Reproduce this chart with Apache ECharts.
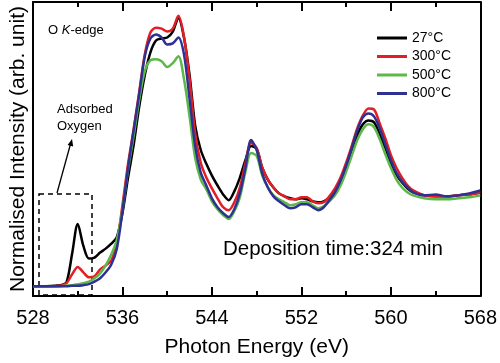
<!DOCTYPE html>
<html>
<head>
<meta charset="utf-8">
<script src="https://cdn.jsdelivr.net/npm/echarts@6/dist/echarts.min.js"></script>
<style>
html,body{margin:0;padding:0;background:#fff;}
#main{width:500px;height:363px;}
</style>
</head>
<body>
<div id="main"></div>
<script>
// Photon energy (eV)
const energy = [528,529,530,530.5,531,531.5,532,532.5,533,533.5,
534,534.5,535,535.5,536,536.5,537,537.5,538,538.5,
539,539.5,540,540.5,541,541.5,542,542.5,543,543.5,
544,544.5,545,545.5,546,546.5,547,547.5,548,548.5,
549,549.5,550,550.5,551,551.5,552,552.5,553,553.5,
554,554.5,555,555.5,556,556.5,557,557.5,558,558.5,
559,559.5,560,560.5,561,561.5,562,563,564,565,
566,567,568];
// Normalised intensity (arb. unit)
const int27 = [10,10,10.5,11,14,43,73,51,38,39,
44,48,53,60,84,120,153,192,224,247,
259,261,262,268,282,262,224,173,148,134,
122,112,103,97,106,120,138,152,149,130,
118,110,104,101,99,98,99,98,96,95,
96,100,106,116,130,146,163,174,178,176,
164,150,135,123,115,109,105,102,101,101,
102,103,105];
const int300 = [10,10,10,10.5,13,22,29.5,24,19,20,
27,31,36,54,92,134,169,207,245,267,
272,271,268,271,284,263,220,165,135,120,
109,99,90,87,95,110,135,155,150,130,
118,110,104,101,98,98,100,100,96,94,
95,101,109,120,135,152,170,183,190,189,
175,160,143,130,120,112,107,102,101,101,
102,103,105];
const int500 = [10,10,10,10,10.5,11,12,13,14.5,18,
23,31,42,57,88,128,162,199,228,239,
240,238,232,236,243,220,182,140,118,108,
96,88,82,78,86,100,126,145,142,122,
110,102,98,95,92,93,95,95,92,89,
91,96,102,112,126,142,158,169,174,171,
159,144,130,118,110,105,102,99,98,98,
99,100,102];
const int800 = [10,10,10,10,10,10.5,10.5,11,12,14.5,
18,24,32,48,86,130,168,205,243,261,
265,262,255,256,262,245,200,152,125,112,
99,90,84,80,88,104,130,158,148,124,
110,101,96,92,89,90,93,93,90,87,
90,97,105,117,132,150,168,181,185,182,
170,154,138,125,116,110,105,102,103,101,
102,104,107];
const seriesNames = ['27°C','300°C','500°C','800°C'];
const seriesColors = ['#000000','#e31e24','#5cb848','#2e3192'];
const seriesValues = [int27,int300,int500,int800];

const FONT = 'Liberation Sans, Arial, sans-serif';
const chart = echarts.init(document.getElementById('main'));

const xCommon = {
  type:'value', min:528, max:568, interval:8,
  axisLine:{show:true,onZero:false,lineStyle:{color:'#000',width:2}},
  axisTick:{show:true,inside:true,length:9,lineStyle:{color:'#000',width:2}},
  minorTick:{show:true,splitNumber:2,length:5,lineStyle:{color:'#000',width:2}},
  splitLine:{show:false}
};

chart.setOption({
  animation:false,
  backgroundColor:'#fff',
  grid:{left:32,right:18,top:2,bottom:63},
  xAxis:[
    Object.assign({}, xCommon, {
      position:'bottom',
      name:'Photon Energy (eV)', nameLocation:'middle', nameGap:41,
      nameTextStyle:{fontSize:21,color:'#000',fontFamily:FONT},
      axisLabel:{show:true,fontSize:20,color:'#000',fontFamily:FONT,margin:12}
    }),
    Object.assign({}, xCommon, {position:'top', axisLabel:{show:false}})
  ],
  yAxis:[
    {type:'value',min:0,max:298,position:'left',
     name:'Normalised Intensity (arb. unit)',nameLocation:'middle',nameGap:4,
     nameTextStyle:{fontSize:21,color:'#000',fontFamily:FONT},
     axisLine:{show:true,lineStyle:{color:'#000',width:2}},
     axisTick:{show:false},axisLabel:{show:false},splitLine:{show:false}},
    {type:'value',min:0,max:298,position:'right',
     axisLine:{show:true,lineStyle:{color:'#000',width:2}},
     axisTick:{show:false},axisLabel:{show:false},splitLine:{show:false}}
  ],
  legend:{
    orient:'vertical', left:372, top:26, icon:'rect', itemWidth:30, itemHeight:3, itemGap:4.5,
    textStyle:{fontSize:14,color:'#000',fontFamily:FONT,padding:[0,0,0,0]},
    data:seriesNames
  },
  series: seriesNames.map((n,k)=>({
    name:n, type:'line', symbol:'none', smooth:0.3,
    lineStyle:{color:seriesColors[k],width:2.5},
    itemStyle:{color:seriesColors[k]},
    data: energy.map((e,i)=>[e, seriesValues[k][i]])
  })),
  graphic:[
    {type:'text', left:48, top:24,
     style:{text:'{a|O }{b|K}{a|-edge}', rich:{
       a:{fontSize:13,fontFamily:FONT,fill:'#000'},
       b:{fontSize:13,fontFamily:FONT,fill:'#000',fontStyle:'italic'}}}},
    {type:'text', left:57, top:101,
     style:{text:'Adsorbed\nOxygen', fontSize:13, lineHeight:17, fontFamily:FONT, fill:'#000'}},
    {type:'text', left:223, top:239,
     style:{text:'Deposition time:324 min', fontSize:20.5, fontFamily:FONT, fill:'#000'}},
    {type:'rect', shape:{x:39,y:194,width:53,height:101},
     style:{fill:'none',stroke:'#000',lineWidth:1.5,lineDash:[5,4]}},
    {type:'line', shape:{x1:57,y1:193,x2:70.5,y2:144},
     style:{stroke:'#000',lineWidth:1.3}},
    {type:'polygon', shape:{points:[[72,139],[73.2,146.6],[67.6,145]]},
     style:{fill:'#000'}}
  ]
});
</script>
</body>
</html>
